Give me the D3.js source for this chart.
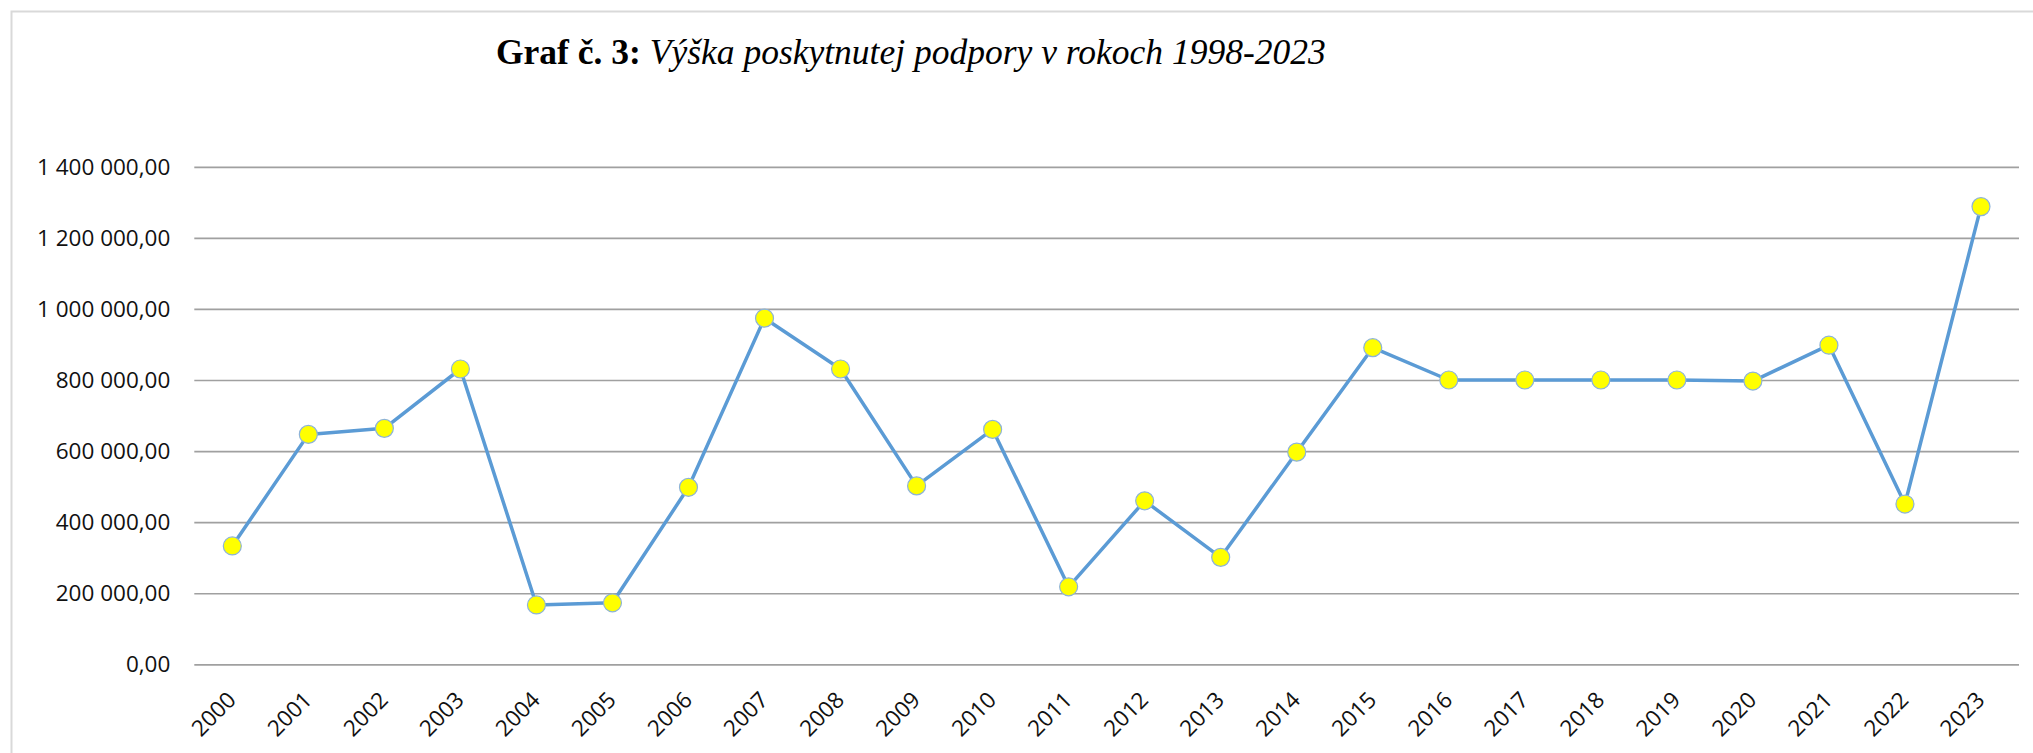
<!DOCTYPE html>
<html>
<head>
<meta charset="utf-8">
<script src="https://cdn.jsdelivr.net/npm/d3@7"></script>
<style>
html, body { margin: 0; padding: 0; background: #fff; }
svg { display: block; }
</style>
</head>
<body>
<svg id="chart" width="2033" height="753"></svg>
<script>
// ---- data ----
const years = ["2000","2001","2002","2003","2004","2005","2006","2007","2008","2009","2010","2011",
               "2012","2013","2014","2015","2016","2017","2018","2019","2020","2021","2022","2023"];
const amounts = [333000, 647000, 664000, 831000, 167000, 173000, 498000, 974000, 831000, 502000, 661000, 218000,
                 460000, 301000, 597000, 891000, 800000, 800000, 800000, 800000, 797000, 898000, 451000, 1288000];
const yTicks = [0, 200000, 400000, 600000, 800000, 1000000, 1200000, 1400000];
const titleBold = "Graf č. 3:";
const titleItalic = " Výška poskytnutej podpory v rokoch 1998-2023";

// ---- layout ----
const W = 2033, H = 753;
const plot = { left: 194.3, right: 2019, top: 166.8, bottom: 664.3 };

const svg = d3.select("#chart");

// outer chart-area border (only top/left edges visible in frame)
svg.append("rect")
  .attr("x", 11.5).attr("y", 11.5)
  .attr("width", W + 20).attr("height", H + 20)
  .attr("fill", "#fff")
  .attr("stroke", "#d9d9d9").attr("stroke-width", 2);

const x = d3.scaleBand().domain(years).range([plot.left, plot.right]).paddingInner(0).paddingOuter(0);
const y = d3.scaleLinear().domain([0, 1400000]).range([plot.bottom, plot.top]);

const loc = d3.formatLocale({ decimal: ",", thousands: "\u00a0", grouping: [3], currency: ["", ""] });
const fmt = loc.format(",.2f");

// y axis + gridlines
const yAxis = svg.append("g")
  .attr("transform", `translate(${plot.left},0)`)
  .call(d3.axisLeft(y).tickValues(yTicks).tickFormat(fmt).tickSize(-(plot.right - plot.left)).tickPadding(24));
yAxis.select(".domain").remove();
yAxis.selectAll(".tick line").attr("stroke", "#a0a0a0").attr("stroke-width", 1.7);
yAxis.selectAll(".tick text")
  .attr("font-family", "'Open Sans', sans-serif")
  .attr("font-size", "22.5px")
  .attr("fill", "#111");

// x axis labels
const xAxis = svg.append("g")
  .attr("transform", `translate(0,${plot.bottom})`)
  .call(d3.axisBottom(x).tickSize(0).tickPadding(0));
xAxis.select(".domain").remove();
xAxis.selectAll(".tick text")
  .attr("font-family", "'Open Sans', sans-serif")
  .attr("font-size", "22.5px")
  .attr("fill", "#111")
  .attr("text-anchor", "end")
  .attr("dy", null)
  .attr("y", null)
  .attr("transform", "translate(5,37) rotate(-45)");

// line
const cx = (d, i) => x(years[i]) + x.bandwidth() / 2;
const line = d3.line().x(cx).y(d => y(d));
svg.append("path")
  .datum(amounts)
  .attr("d", line)
  .attr("fill", "none")
  .attr("stroke", "#5b9bd5")
  .attr("stroke-width", 3.5)
  .attr("stroke-linejoin", "round");

// markers
svg.append("g").selectAll("circle")
  .data(amounts)
  .join("circle")
  .attr("cx", cx)
  .attr("cy", d => y(d))
  .attr("r", 9)
  .attr("fill", "#ffff00")
  .attr("stroke", "#8db3d9")
  .attr("stroke-width", 1.2);

// title
const title = svg.append("text")
  .attr("x", 496).attr("y", 64)
  .attr("font-family", "'Liberation Serif', 'Times New Roman', serif")
  .attr("font-size", "35.5px")
  .attr("fill", "#000");
title.append("tspan").attr("font-weight", "bold").text(titleBold);
title.append("tspan").attr("font-style", "italic").text(titleItalic);
</script>
</body>
</html>
